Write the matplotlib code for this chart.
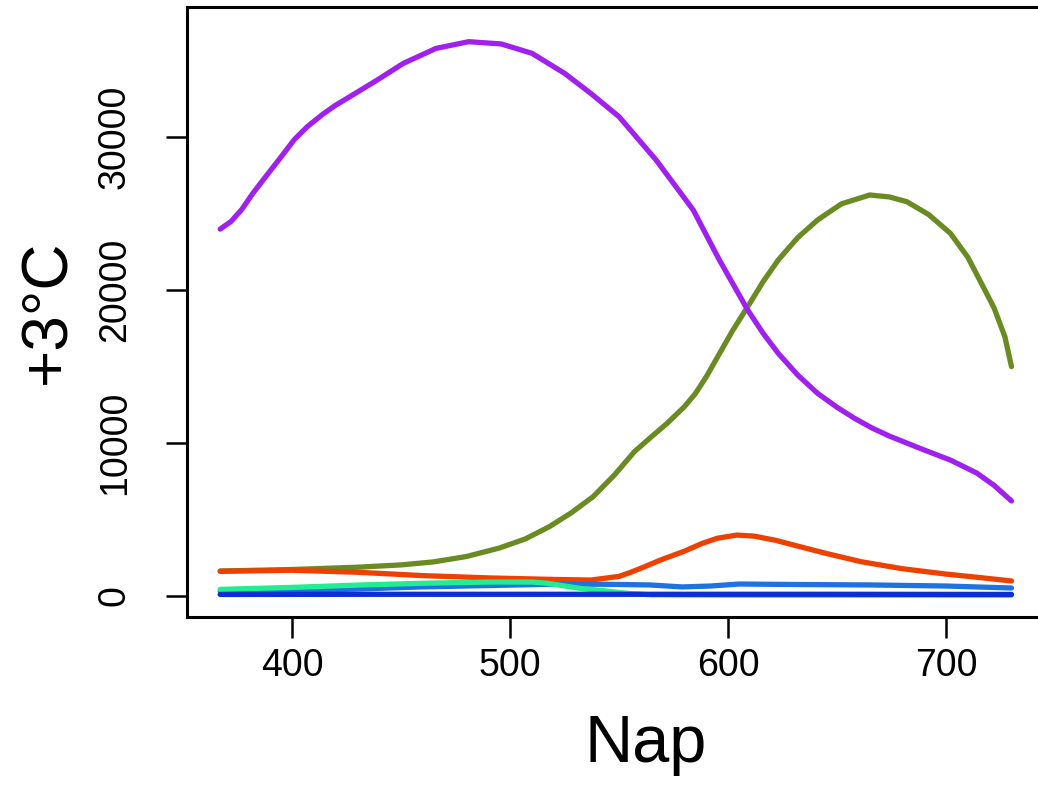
import matplotlib
matplotlib.use("Agg")
import matplotlib.pyplot as plt

plt.rcParams['font.family'] = ['Liberation Sans', 'DejaVu Sans']

# Dane (dzien, wartosc)
purple_x = [367, 372, 377, 382, 388, 395, 401, 407, 414, 420, 427, 439, 451,
            466, 481, 496, 510, 525, 537, 550, 567, 584, 596, 609, 616, 623,
            632, 641, 650, 658, 666, 674, 688, 702, 714, 722, 730]
purple_y = [23950, 24450, 25250, 26290, 27400, 28680, 29800, 30650, 31450,
            32050, 32650, 33690, 34780, 35760, 36200, 36050, 35440, 34130,
            32820, 31290, 28460, 25200, 21930, 18660, 17150, 15830, 14400,
            13220, 12300, 11580, 10950, 10420, 9620, 8850, 8010, 7200, 6180]

green_x = [367, 400, 430, 450, 465, 480, 495, 507, 518, 528, 538, 548, 557,
           565, 572, 580, 585, 590, 596, 602, 609, 616, 623, 632, 641, 652,
           665, 674, 682, 692, 702, 710, 717, 722, 727, 730]
green_y = [1600, 1700, 1850, 2000, 2200, 2550, 3100, 3700, 4500, 5400, 6450,
           7900, 9400, 10400, 11250, 12350, 13200, 14300, 15800, 17300, 18880,
           20500, 21930, 23400, 24540, 25600, 26180, 26050, 25740, 24900,
           23670, 22100, 20180, 18800, 16900, 14960]

orange_x = [367, 400, 430, 460, 490, 520, 537, 550, 555, 560, 569, 580, 588,
            595, 604, 612, 622, 633, 645, 661, 680, 700, 715, 730]
orange_y = [1580, 1650, 1520, 1300, 1150, 1050, 1010, 1250, 1500, 1780, 2320,
            2900, 3400, 3740, 3950, 3880, 3600, 3190, 2750, 2210, 1750, 1400,
            1180, 950]

lblue_x = [367, 400, 430, 459, 490, 523, 545, 564, 579, 592, 605, 630, 665,
           700, 730]
lblue_y = [280, 330, 420, 560, 650, 750, 730, 690, 560, 620, 750, 720, 690,
           620, 490]

cyan_x = [367, 400, 430, 460, 490, 510, 517, 532, 545, 553, 565, 600, 700, 730]
cyan_y = [400, 530, 680, 800, 880, 880, 800, 470, 280, 150, 40, 20, 20, 20]

dblue_x = [367, 450, 550, 650, 730]
dblue_y = [70, 80, 80, 80, 70]

fig = plt.figure(figsize=(10.38, 7.89), dpi=100)
ax = fig.add_axes([0.1802, 0.218, 0.8266, 0.773])

lw = 3.8
ax.plot(green_x, green_y, color="#698B22", lw=lw, solid_capstyle="round")
ax.plot(purple_x, purple_y, color="#A020F0", lw=lw, solid_capstyle="round")
ax.plot(orange_x, orange_y, color="#EE4000", lw=lw, solid_capstyle="round")
ax.plot(lblue_x, lblue_y, color="#1E73E0", lw=lw, solid_capstyle="round")
ax.plot(cyan_x, cyan_y, color="#20EE90", lw=lw, solid_capstyle="round")
ax.plot(dblue_x, dblue_y, color="#0B2ED6", lw=lw, solid_capstyle="round")

ax.set_xlim(351.8, 745.4)
ax.set_ylim(-1405, 38460)
ax.set_xticks([400, 500, 600, 700])
ax.set_yticks([0, 10000, 20000, 30000])

for s in ax.spines.values():
    s.set_linewidth(2.2)
ax.spines['right'].set_visible(False)

ax.tick_params(axis='both', direction='out', length=15, width=1.8,
               labelsize=27)
ax.tick_params(axis='x', pad=7)
ax.tick_params(axis='y', pad=24)
for lab in ax.get_yticklabels():
    lab.set_rotation(90)
    lab.set_va('center')

ax.set_xlabel("Nap", fontsize=48, va='center')
ax.xaxis.set_label_coords(0.535, -0.21)
ax.set_ylabel("+3°C", fontsize=46, va='center')
ax.yaxis.set_label_coords(-0.162, 0.5)

plt.savefig("out.png", dpi=100)
